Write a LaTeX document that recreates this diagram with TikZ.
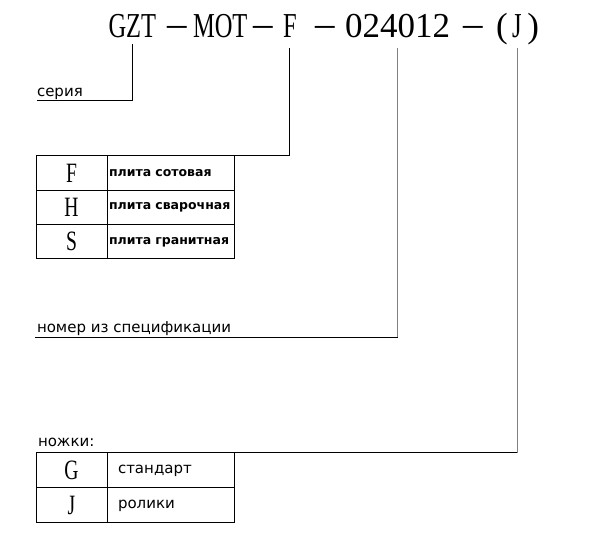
\documentclass[tikz,border=0pt]{standalone}
\usepackage{fontspec}
\newfontfamily\codefont{Liberation Serif}
\newfontfamily\codenarrow[FakeStretch=0.7]{Liberation Serif}
\newfontfamily\lblfont{DejaVu Sans}
\usetikzlibrary{positioning,calc}
\tikzset{codepart/.style={inner sep=0, outer sep=0, anchor=base west, font=\codenarrow\fontsize{35}{40}\selectfont}}
\tikzset{codewide/.style={codepart, font=\codefont\fontsize{35}{40}\selectfont}}
\tikzset{codedash/.style={codepart, font=\codefont\fontsize{39}{40}\selectfont, yshift=1pt}}
\tikzset{lbl/.style={inner sep=0, outer sep=0, font=\lblfont\fontsize{15}{18}\selectfont}}
\tikzset{letcell/.style={draw, line width=1pt, inner sep=0, outer sep=0, minimum width=71pt, minimum height=34.33pt, font=\codenarrow\fontsize{28}{30}\selectfont}}
\tikzset{labcell/.style={draw, line width=1pt, inner xsep=2pt, inner ysep=0, outer sep=0, text width=123pt, align=left, minimum height=34.33pt, font=\lblfont\bfseries\fontsize{12.5}{15}\selectfont}}
\tikzset{labcell2/.style={labcell, inner xsep=11pt, text width=105pt, minimum height=35pt, font=\lblfont\fontsize{15}{18}\selectfont}}
\tikzset{conn/.style={draw, line width=1pt}}
\tikzset{conng/.style={conn, draw=gray}}
\begin{document}
\begin{tikzpicture}[x=1pt, y=1pt]
	\useasboundingbox (0,0) rectangle (591,537);
	% code line
	\node[codepart] (gzt) at (108.5,499) {GZT};
	\node[codedash] (d1) at (167,499) {–};
	\node[codepart] (mot) at (193,499) {MOT};
	\node[codedash] (d2) at (253,499) {–};
	\node[codepart] (typ) at (283,499) {F};
	\node[codedash] (d3) at (315,499) {–};
	\node[codewide] (num) at (345,499) {024012};
	\node[codedash] (d4) at (463,499) {–};
	\node[codewide] (lp) at (496,499) {(};
	\node[codepart, anchor=base] (leg) at (517,499) {J};
	\node[codewide, anchor=base east] (rp) at (539,499) {)};
	%
	\coordinate (serieEnd) at (37,436);
	\node[lbl, above right=1pt and 0pt of serieEnd] (serie) {серия};
	\draw[conn, shorten <=6pt] (gzt.south) |- (serieEnd);
	% plate table
	\node[letcell] (F) at (71.5,363.83) {F};
	\node[letcell, below=0pt of F] (H) {H};
	\node[letcell, below=0pt of H] (S) {S};
	\node[labcell, right=0pt of F] (Fl) {плита сотовая};
	\node[labcell, right=0pt of H] (Hl) {плита сварочная};
	\node[labcell, right=0pt of S] (Sl) {плита гранитная};
	\draw[conn, shorten <=10pt] (typ.south) |- (Fl.north east);
	%
	\coordinate (specEnd) at (35,199);
	\node[lbl, above right=2pt and 2pt of specEnd] (spec) {номер из спецификации};
	\draw[conng, shorten <=10pt] (num.south) -- (num.south |- specEnd);
	\draw[conn] (num.south |- specEnd) -- (specEnd);
	% legs table
	\node[letcell, minimum height=35pt] (G) at (71.5,66.5) {G};
	\node[letcell, minimum height=35pt, below=0pt of G] (J) {J};
	\node[labcell2, right=0pt of G] (Gl) {стандарт};
	\node[labcell2, right=0pt of J] (Jl) {ролики};
	\node[lbl, above right=6pt and 2pt of G.north west] (feet) {ножки:};
	\draw[conng, shorten <=10pt] (leg.south) -- (leg.south |- Gl.north east);
	\draw[conn] (leg.south |- Gl.north east) -- (Gl.north east);
\end{tikzpicture}
\end{document}
